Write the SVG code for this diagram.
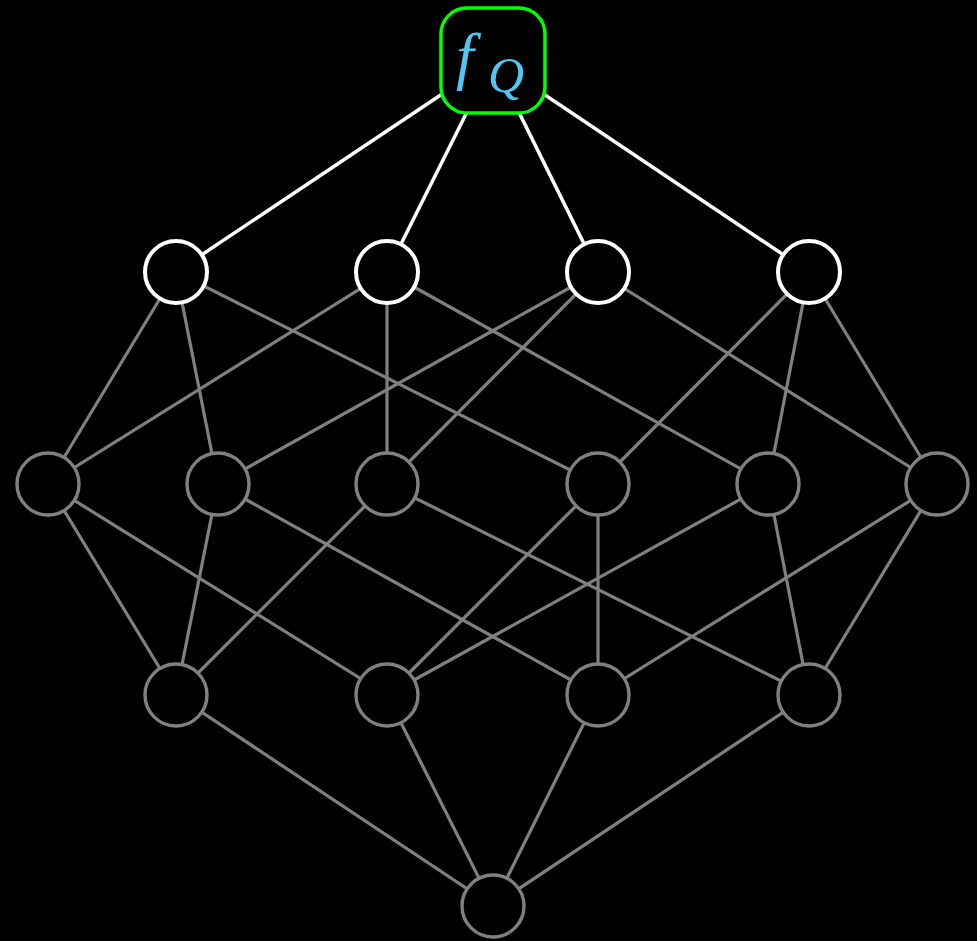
<svg xmlns="http://www.w3.org/2000/svg" width="977" height="941" viewBox="0 0 977 941">
<style>
.e{stroke:#808080;stroke-width:3.2;fill:none}
.t{stroke:#ffffff;stroke-width:3.5;fill:none}
.n{fill:#000;stroke:#808080;stroke-width:3.4}
.w{fill:#000;stroke:#ffffff;stroke-width:4}
.lbl{fill:#4ec8f2;font-family:"Liberation Serif",serif;font-style:italic}
</style>
<rect width="977" height="941" fill="#000"/>
<g id="connectors">
<line class="t" x1="493" y1="60" x2="176" y2="272"/>
<line class="t" x1="493" y1="60" x2="387" y2="272"/>
<line class="t" x1="493" y1="60" x2="598" y2="272"/>
<line class="t" x1="493" y1="60" x2="809" y2="272"/>
<line class="e" x1="176" y1="272" x2="48" y2="484"/>
<line class="e" x1="176" y1="272" x2="218" y2="484"/>
<line class="e" x1="176" y1="272" x2="598" y2="484"/>
<line class="e" x1="387" y1="272" x2="48" y2="484"/>
<line class="e" x1="387" y1="272" x2="387" y2="484"/>
<line class="e" x1="387" y1="272" x2="768" y2="484"/>
<line class="e" x1="598" y1="272" x2="218" y2="484"/>
<line class="e" x1="598" y1="272" x2="387" y2="484"/>
<line class="e" x1="598" y1="272" x2="937" y2="484"/>
<line class="e" x1="809" y1="272" x2="598" y2="484"/>
<line class="e" x1="809" y1="272" x2="768" y2="484"/>
<line class="e" x1="809" y1="272" x2="937" y2="484"/>
<line class="e" x1="48" y1="484" x2="176" y2="695"/>
<line class="e" x1="48" y1="484" x2="387" y2="695"/>
<line class="e" x1="218" y1="484" x2="176" y2="695"/>
<line class="e" x1="218" y1="484" x2="598" y2="695"/>
<line class="e" x1="387" y1="484" x2="176" y2="695"/>
<line class="e" x1="387" y1="484" x2="809" y2="695"/>
<line class="e" x1="598" y1="484" x2="387" y2="695"/>
<line class="e" x1="598" y1="484" x2="598" y2="695"/>
<line class="e" x1="768" y1="484" x2="387" y2="695"/>
<line class="e" x1="768" y1="484" x2="809" y2="695"/>
<line class="e" x1="937" y1="484" x2="598" y2="695"/>
<line class="e" x1="937" y1="484" x2="809" y2="695"/>
<line class="e" x1="176" y1="695" x2="493" y2="906"/>
<line class="e" x1="387" y1="695" x2="493" y2="906"/>
<line class="e" x1="598" y1="695" x2="493" y2="906"/>
<line class="e" x1="809" y1="695" x2="493" y2="906"/>
</g>
<g id="top">
<rect x="441" y="8" width="104" height="105" rx="26" fill="#000" stroke="#00ff00" stroke-width="3.5"/>
<text class="lbl" x="456" y="77" font-size="64">f</text>
<text class="lbl" x="488" y="92" font-size="50">Q</text>
</g>
<g id="n1"><circle class="w" cx="176" cy="272" r="31"/></g>
<g id="n2"><circle class="w" cx="387" cy="272" r="31"/></g>
<g id="n3"><circle class="w" cx="598" cy="272" r="31"/></g>
<g id="n4"><circle class="w" cx="809" cy="272" r="31"/></g>
<g id="n12"><circle class="n" cx="48" cy="484" r="31"/></g>
<g id="n13"><circle class="n" cx="218" cy="484" r="31"/></g>
<g id="n23"><circle class="n" cx="387" cy="484" r="31"/></g>
<g id="n14"><circle class="n" cx="598" cy="484" r="31"/></g>
<g id="n24"><circle class="n" cx="768" cy="484" r="31"/></g>
<g id="n34"><circle class="n" cx="937" cy="484" r="31"/></g>
<g id="n123"><circle class="n" cx="176" cy="695" r="31"/></g>
<g id="n124"><circle class="n" cx="387" cy="695" r="31"/></g>
<g id="n134"><circle class="n" cx="598" cy="695" r="31"/></g>
<g id="n234"><circle class="n" cx="809" cy="695" r="31"/></g>
<g id="bottom"><circle class="n" cx="493" cy="906" r="31"/></g>
</svg>
